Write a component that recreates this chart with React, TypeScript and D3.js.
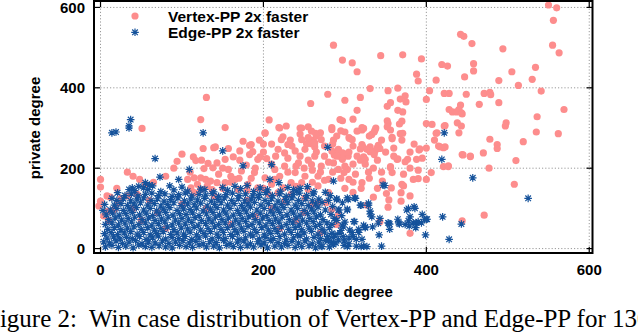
import React from 'react';
import * as d3 from 'd3';

const width = 638,
      height = 332;

const xTicks = [0, 200, 400, 600];
const yTicks = [0, 200, 400, 600];
const seriesNames = ['Vertex-PP 2x faster', 'Edge-PP 2x faster'];
const xTitle = 'public degree';
const yTitle = 'private degree';
const caption = 'Figure 2:\u00a0 Win case distribution of Vertex-PP and Edge-PP for 130';

// [public degree, private degree] -- Vertex-PP wins
const vertexFaster: [number, number][] = [
  [550,606],[560,599],[556,568],[555,506],[563,487],[494,497],[442,533],[446,528],[456,510],[458,460],[458,442],[505,440],[534,451],[530,421],[489,418],[513,406],[541,392],[471,386],[478,389],[479,383],[465,359],[489,363],[569,346],[536,328],[498,313],[497,305],[449,384],[447,427],
  [535,290],[562,286],[478,272],[487,259],[487,249],[519,266],[470,238],[454,229],[510,219],[477,200],[508,160],[471,83],[444,69],
  [344,480],[371,482],[297,469],[309,462],[315,440],[394,472],[388,434],[390,417],[419,458],[426,454],[412,419],[331,398],[353,393],[365,399],[404,393],[428,386],[300,369],[319,376],[374,380],[368,372],[375,365],[356,363],[352,354],[400,371],[315,344],[365,344],[371,340],[428,346],[432,340],[442,357],[440,346],[437,340],[443,338],[310,322],[352,318],[353,311],[370,317],[367,310],[400,311],[407,309],[423,306],[438,313],[321,301],[338,300],[297,318],[422,386],[444,335],
  [286,506],[279,384],[258,361],[207,320],[294,321],[130,376],[123,321],[51,299],[153,301],
  [219,301],[228,305],[255,303],[245,300],[284,301],[264,287],[202,287],[224,278],[233,270],[261,266],
  [356,295],[371,287],[358,277],[352,303],[295,293],[321,295],[323,299],[337,295],[333,284],[306,274],[270,288],[305,276],[315,292],[336,290],[368,286],[358,273],[309,271],[413,288],[440,288],[443,305],[422,305],[412,287],[415,255],[421,251],[444,234],[421,204],[427,204],[417,253],[423,253],[427,206],[454,230],[445,233],[380,38],[343,67],
  [341,257],[343,249],[331,253],[322,253],[319,248],[298,237],[304,230],[287,233],[292,245],[286,270],[261,270],[263,253],[259,261],[253,261],[337,243],[331,241],[319,220],[323,228],[392,248],[388,222],[374,216],[365,223],[356,204],[321,259],[327,247],[340,251],[336,234],[325,222],[297,238],[297,222],[303,197],[299,189],[313,185],[305,172],[321,164],[329,190],[346,168],[356,201],[358,189],[364,222],[377,222],[372,185],[372,156],[370,160],[390,174],[400,172],[406,189],[391,245],[335,128],[327,108],[353,103],[357,151],[369,139],[380,131],[369,118],[384,172],[354,121],[351,137],
  [222,271],[230,259],[247,271],[255,276],[263,263],[271,271],[218,247],[226,238],[239,243],[251,247],[263,230],[275,230],[284,243],[292,247],[296,226],[286,213],[243,213],[259,209],[271,205],[226,205],[214,197],[239,189],[251,180],[267,180],[280,172],[292,197],[267,156],[255,147],[280,139],[247,164],[234,164],[214,172],[202,176],[189,189],[173,193],[165,172],[153,164],[181,160],[169,147],[193,151],[224,151],[234,135],[251,126],[267,114],[277,114],[284,98],[292,85],[226,118],[218,139],[206,135],
  [175,267],[185,259],[171,243],[183,234],[193,222],[153,222],[157,197],[202,288],[220,300],[247,300],[259,292],[284,296],
  [100,235],[94,217],[141,253],[157,249],[126,249],[183,257],[187,241],[196,228],[204,224],[114,228],[124,220],[132,212],[163,228],[171,220],[179,208],[139,251],[117,219],[127,199],[138,201],[143,213],
  [107,172],[115,176],[123,176],[129,172],[135,168],[119,160],[131,156],[123,147],[115,139],[111,151],[137,147],[143,164],
  [33,190],[0,172],[0,153],[8,131],[0,118],[-2,106],[4,81],[33,131],[12,128],[22,115],[18,100],[8,92],[40,180],[48,172],[55,160],
  [145,185],[150,200],[160,180],[110,190],[90,200],[80,180],[65,165],[20,150],[25,125],[45,135],[60,120],[15,95],[10,70],[40,100],[70,90],[100,110],[130,100],[160,60],[190,80],[220,50],[250,90],[80,50],[50,70],[140,130],[180,120],[210,100],[240,70],[270,40],[290,60],[300,150],[310,140],[260,110],
  [210,260],[215,230],[230,225],[245,230],[255,220],[265,240],[275,255],[285,260],[290,230],[280,215],[270,190],[260,195],[250,200],[240,205],[230,190],[220,180],[210,210],[200,240],[200,260],[195,270],[190,200],[235,255],[245,285],[265,280],[290,280],[300,290],[310,255],[305,240],[315,230],[325,210],[335,200],[345,190],[340,220],[350,240],[360,250],[345,270],[330,280],[360,230],[380,240],[385,260],[370,270],[395,225],[400,250],[410,270],[380,200],[390,195],[300,205],[310,210],[285,190],[275,170],[295,175],[310,165],[330,175],[340,150],[320,150],[200,150],[210,160],[185,175],[170,175],[160,165],[150,150],[180,145],[240,155],[260,165],
];

// [public degree, private degree] -- Edge-PP wins
const edgeFaster: [number, number][] = [
  [14,288],[19,290],[35,300],[37,321],[35,305],[126,288],[67,224],[109,197],[150,243],[175,206],[210,209],[73,178],[96,172],[128,147],[21,139],[55,164],[64,156],[53,151],[39,151],[35,147],[279,252],[422,288],[419,222],[457,176],[525,125],[443,61],[428,23],[420,79],[399,34],[398,73],[208,172],[219,164],[196,151],[241,143],[254,154],[286,168],[290,124],[293,96],[271,6],[284,15],[299,19],
  [349,157],[303,126],[312,126],[319,108],[329,108],[297,114],[303,98],[333,79],[331,93],[312,67],[297,58],[323,58],[325,52],[334,54],[354,63],[355,48],[342,34],[305,27],[309,40],[317,40],[314,23],[321,23],[323,6],[314,6],[345,6],[299,8],[378,100],[385,104],[395,85],[401,73],[394,64],[388,64],[378,69],[379,56],[387,52],[366,64],[374,60],[327,5],[320,5],[303,5],[272,5],
  [347,158],[329,113],[320,108],[313,125],[304,122],[290,122],[292,96],[303,96],[341,63],[353,64],[367,61],[384,64],[390,67],[400,73],[311,67],[325,54],[317,48],[306,46],[298,54],[294,38],[286,28],[280,20],[287,75],[331,86],[376,96],[386,100],[380,79],[365,73],[355,61],[343,75],
  [286,10],[292,22],[288,35],[295,45],[284,60],[290,70],[283,85],[296,82],[285,105],[280,120],[298,30],[305,12],[310,30],[300,66],[276,140],[282,132],
  [47,155],[60,158],[85,156],[100,153],[165,155],[180,157],[150,152],[230,152],[245,150],[14,125],[5,110],[3,95],
  [6,4],[14,8],[22,3],[31,6],[40,2],[47,9],[55,5],[63,3],[72,7],[80,4],[88,2],[97,8],[105,5],[113,3],[121,9],[130,4],[139,6],[146,2],[155,8],[163,5],[172,3],[180,7],[188,4],[197,9],[205,2],[214,6],[222,4],[230,8],[239,3],[247,5],[256,7],[264,2],[281,4],
  [4,17],[11,14],[19,19],[27,13],[35,16],[43,20],[51,12],[59,17],[67,14],[76,19],[84,13],[92,16],[101,20],[109,14],[117,18],[126,12],[134,17],[142,15],[151,20],[159,13],[168,16],[176,19],[184,12],[193,17],[201,14],[209,20],[218,15],[226,13],[235,18],[243,14],[251,19],[260,12],[268,16],[276,20],[289,14],
  [8,26],[16,29],[24,24],[32,28],[39,25],[48,30],[56,23],[64,27],[71,31],[80,24],[88,28],[96,25],[104,30],[112,23],[121,27],[129,31],[137,24],[145,28],[153,25],[162,30],[170,23],[178,27],[187,31],[195,24],[203,28],[212,25],[220,30],[228,22],[237,27],[245,31],[253,24],[262,28],[270,25],[279,30],
  [5,37],[13,40],[21,35],[29,39],[37,42],[45,36],[53,40],[61,34],[69,38],[77,42],[86,35],[94,39],[102,36],[110,41],[118,34],[127,38],[135,42],[143,36],[151,40],[160,35],[168,39],[176,43],[184,36],[192,40],[201,34],[209,38],[217,42],[226,36],[234,40],[242,35],[250,39],[259,43],[267,36],[275,41],[284,38],
  [9,48],[17,52],[25,47],[33,51],[41,54],[50,48],[58,52],[66,46],[74,50],[82,54],[90,47],[99,51],[107,49],[115,53],[123,46],[132,50],[140,54],[148,48],[156,52],[165,47],[173,51],[181,55],[189,48],[198,52],[206,46],[214,50],[222,54],[231,48],[239,52],[247,47],[256,51],[264,55],[272,48],[281,52],
  [6,60],[14,64],[22,59],[30,63],[38,66],[47,60],[55,64],[63,58],[71,62],[79,66],[88,59],[96,63],[104,61],[112,65],[120,58],[129,62],[137,66],[145,60],[153,64],[162,59],[170,63],[178,67],[186,60],[195,64],[203,58],[211,62],[219,66],[228,60],[236,64],[244,59],[253,63],[261,67],[269,60],[278,64],
  [10,72],[18,76],[26,71],[34,75],[42,78],[51,72],[59,76],[67,70],[75,74],[83,78],[92,71],[100,75],[108,73],[116,77],[124,70],[133,74],[141,78],[149,72],[157,76],[166,71],[174,75],[182,79],[190,72],[199,76],[207,70],[215,74],[223,78],[232,72],[240,76],[248,71],[257,75],[265,79],[273,72],
  [7,84],[15,88],[23,83],[31,87],[39,90],[48,84],[56,88],[64,82],[72,86],[80,90],[89,83],[97,87],[105,85],[113,89],[121,82],[130,86],[138,90],[146,84],[154,88],[163,83],[171,87],[179,91],[187,84],[196,88],[204,82],[212,86],[220,90],[229,84],[237,88],[245,83],[254,87],[262,91],[270,84],
  [12,96],[20,100],[28,95],[36,99],[44,102],[53,96],[61,100],[69,94],[77,98],[85,102],[94,95],[102,99],[110,97],[118,101],[126,94],[135,98],[143,102],[151,96],[159,100],[168,95],[176,99],[184,103],[192,96],[201,100],[209,94],[217,98],[225,102],[234,96],[242,100],[250,95],[259,99],[267,103],[276,96],
  [17,108],[25,112],[33,107],[41,111],[49,114],[58,108],[66,112],[74,106],[82,110],[90,114],[99,107],[107,111],[115,109],[123,113],[131,106],[140,110],[148,114],[156,108],[164,112],[173,107],[181,111],[189,115],[197,108],[206,112],[214,106],[222,110],[230,114],[239,108],[247,112],[255,107],[264,111],[272,115],
  [20,120],[28,124],[37,119],[45,123],[53,126],[62,120],[70,124],[78,118],[86,122],[95,126],[103,119],[111,123],[119,121],[128,125],[136,118],[144,122],[152,126],[161,120],[169,124],[177,119],[185,123],[194,127],[202,120],[210,124],[218,118],[227,122],[235,126],[243,120],[252,124],[260,119],[268,123],
  [30,132],[38,136],[46,131],[55,135],[63,138],[71,132],[79,136],[88,130],[96,134],[104,138],[112,131],[121,135],[129,133],[137,137],[145,130],[154,134],[162,138],[170,132],[178,136],[187,131],[195,135],[203,139],[211,132],[220,136],[228,130],[236,134],[244,138],[253,132],[261,136],
  [42,144],[58,147],[74,142],[90,146],[107,143],[123,148],[139,141],[156,145],[172,149],[188,142],[205,146],[221,143],[237,147],[262,141],
];

const pink = '#fd8d8d';
const blue = '#15529b';
const sans = 'Liberation Sans, Arial, Helvetica, sans-serif';

const x = d3.scaleLinear().domain([-8, 604]).range([94, 592.5]);
const y = d3.scaleLinear().domain([-11, 616]).range([253, 1]);

const star = 'M-3.8,0H3.8M0,-3.8V3.8M-2.8,-2.8L2.8,2.8M-2.8,2.8L2.8,-2.8';

const App = () => {
  const [x0, x1] = x.range();
  const [y0, y1] = y.range();
  return (
    <svg width={width} height={height} style={{ position: 'absolute', left: 0, top: 0, background: '#fff' }}>
      {/* grid */}
      <g stroke="#9a9a9a" strokeWidth={1} strokeDasharray="1.2,2">
        {xTicks.map(t => <line key={'gx' + t} x1={x(t)} x2={x(t)} y1={y0} y2={y1} />)}
        {yTicks.map(t => <line key={'gy' + t} x1={x0} x2={x1} y1={y(t)} y2={y(t)} />)}
      </g>

      {vertexFaster.map((d, i) => (
        <circle key={'v' + i} cx={x(d[0])} cy={y(d[1])} r={3.6} fill={pink} />
      ))}
      <g stroke={blue} strokeWidth={1.2} fill="none">
        {edgeFaster.map((d, i) => (
          <path key={'e' + i} d={star} transform={`translate(${x(d[0])},${y(d[1])})`} />
        ))}
      </g>

      {/* frame + ticks */}
      <rect x={x0} y={y1} width={x1 - x0} height={y0 - y1} fill="none" stroke="#000" strokeWidth={2} />
      <g stroke="#000" strokeWidth={1.2}>
        {xTicks.map(t => (
          <g key={'tx' + t}>
            <line x1={x(t)} x2={x(t)} y1={y0} y2={y0 - 6} />
            <line x1={x(t)} x2={x(t)} y1={y1} y2={y1 + 6} />
          </g>
        ))}
        {yTicks.map(t => (
          <g key={'ty' + t}>
            <line x1={x0} x2={x0 + 6} y1={y(t)} y2={y(t)} />
            <line x1={x1} x2={x1 - 6} y1={y(t)} y2={y(t)} />
          </g>
        ))}
      </g>

      <g fontFamily={sans} fontWeight="bold" fontSize={15} fill="#000">
        {xTicks.map(t => (
          <text key={'lx' + t} x={x(t)} y={275} textAnchor="middle">{t}</text>
        ))}
        {yTicks.map(t => (
          <text key={'ly' + t} x={85} y={y(t)} dy="0.36em" textAnchor="end">{t}</text>
        ))}
        <text x={344} y={297} textAnchor="middle">{xTitle}</text>
        <text transform="translate(40,128) rotate(-90)" textAnchor="middle">{yTitle}</text>
      </g>

      {/* legend */}
      <circle cx={135} cy={16} r={3.6} fill={pink} />
      <path d={star} transform="translate(135,32.3)" stroke={blue} strokeWidth={1.2} fill="none" />
      <g fontFamily={sans} fontWeight="bold" fontSize={15.5}>
        <text x={168} y={22}>{seriesNames[0]}</text>
        <text x={168} y={38}>{seriesNames[1]}</text>
      </g>

      <text x={-14} y={327} fontFamily="Liberation Serif, Times New Roman, serif" fontSize={25}>{caption}</text>
    </svg>
  );
};

export default App;
